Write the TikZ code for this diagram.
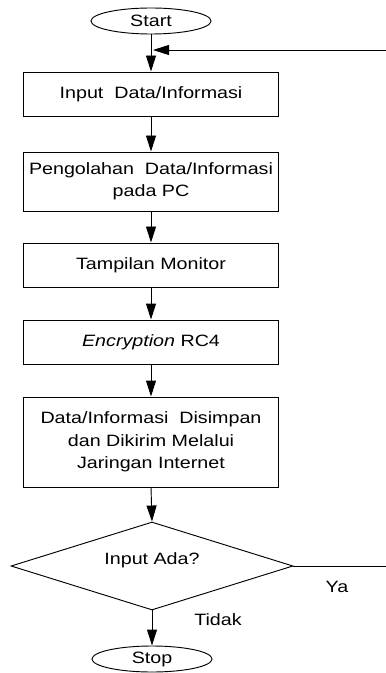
\documentclass[tikz,border=0pt]{standalone}
\usepackage{fontspec}
\setmainfont{Liberation Sans}[FakeStretch=1.2]
\usetikzlibrary{shapes.geometric,arrows.meta}

\tikzset{
	proses/.style={draw, line width=0.7pt, minimum width=191.25pt, inner sep=0pt, align=center, font=\fontsize{12.3}{16.8}\selectfont},
	terminal/.style={draw, ellipse, line width=0.7pt, minimum width=90pt, minimum height=19.5pt, inner sep=0pt, font=\fontsize{12.3}{14}\selectfont},
	keputusan/.style={draw, diamond, line width=0.7pt, minimum width=211.5pt, minimum height=66pt, inner sep=0pt, font=\fontsize{12.3}{14}\selectfont},
	label/.style={inner sep=0.75pt, font=\fontsize{12.3}{14}\selectfont},
	panah/.style={line width=0.7pt, -{Triangle[length=12pt,width=7.5pt]}},
	garis/.style={line width=0.7pt}
}

\begin{document}
\begin{tikzpicture}[x=0.75pt,y=0.75pt,yscale=-1,xscale=1]
	\useasboundingbox (0,0) rectangle (385,673);
	
	%Shape: Ellipse [id:start] 
	\node [terminal] (start) at (151,21) {Start};
	%Shape: Rectangle [id:input] 
	\node [proses, minimum height=33pt] (input) at (151,94) {Input\ \ Data/Informasi};
	%Shape: Rectangle [id:olah] 
	\node [proses, minimum height=44.25pt] (olah) at (151,181.5) {Pengolahan\ \ Data/Informasi\\pada PC};
	%Shape: Rectangle [id:tampil] 
	\node [proses, minimum height=33pt] (tampil) at (151,265) {Tampilan Monitor};
	%Shape: Rectangle [id:enkripsi] 
	\node [proses, minimum height=33pt] (enkripsi) at (151,342) {\textit{Encryption} RC4};
	%Shape: Rectangle [id:simpan] 
	\node [proses, minimum height=67.5pt] (simpan) at (151,442) {Data/Informasi\ \ Disimpan\\dan Dikirim Melalui\\Jaringan Internet};
	%Shape: Diamond [id:cek] 
	\node [keputusan] (cek) at (152,566) {};
	\node [label] (cektext) at (152,560) {Input Ada?};
	%Shape: Ellipse [id:stop] 
	\node [terminal] (stop) at (152,659) {Stop};
	
	\coordinate (join) at (153,50);
	\coordinate (kanan) at (388,50);
	
	%Straight Lines
	\draw [panah] (start) -- (input);
	\draw [panah] (input) -- (olah);
	\draw [panah] (olah) -- (tampil);
	\draw [panah] (tampil) -- (enkripsi);
	\draw [panah] (enkripsi) -- (simpan);
	\draw [panah] (simpan.south) -- (cek.north);
	\draw [panah] (cek.south) -- (stop.north);
	%Straight Lines (loop Ya)
	\draw [panah] (cek.east) -- (cek.east -| kanan) -- (kanan) -- (join);
	
	% Text Node
	\node [label] (ya) at (337,587) {Ya};
	% Text Node
	\node [label] (tidak) at (218,620) {Tidak};
	
\end{tikzpicture}
\end{document}
